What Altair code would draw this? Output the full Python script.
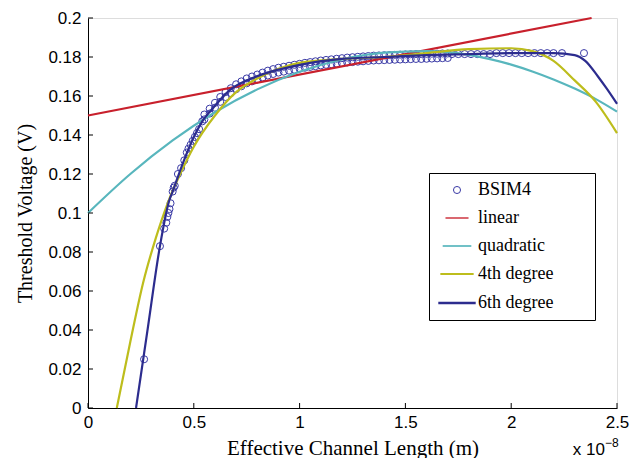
import altair as alt
import pandas as pd

series_names = ["BSIM4", "linear", "quadratic", "4th degree", "6th degree"]
series_colors = ["#3a3aa6", "#c8202c", "#58b6bd", "#bdbd1c", "#2c2c8e"]

# BSIM4 simulated points (x in units of 1e-8 m)
early_x = [0.265, 0.34, 0.36, 0.37, 0.375, 0.38, 0.385, 0.39, 0.40, 0.405, 0.41,
           0.425, 0.44, 0.455, 0.467, 0.475, 0.485, 0.495, 0.505, 0.515, 0.525, 0.54]
early_y = [0.025, 0.083, 0.092, 0.095, 0.098, 0.100, 0.102, 0.105, 0.111, 0.113, 0.114,
           0.120, 0.123, 0.127, 0.131, 0.133, 0.135, 0.137, 0.139, 0.141, 0.143, 0.147]
band_x = [0.55, 0.575, 0.6, 0.625, 0.65, 0.675, 0.7, 0.725, 0.75, 0.775, 0.8, 0.825,
          0.85, 0.875, 0.9, 0.925, 0.95, 0.975, 1.0, 1.025, 1.05, 1.075, 1.1, 1.125,
          1.15, 1.175, 1.2, 1.225, 1.25, 1.275, 1.3, 1.325, 1.35, 1.375, 1.4, 1.425,
          1.45, 1.475, 1.5, 1.525, 1.55, 1.575, 1.6, 1.625, 1.65, 1.675, 1.7]
band_upper_y = [0.1505, 0.1535, 0.1565, 0.1595, 0.162, 0.164, 0.166, 0.1675, 0.169, 0.170,
                0.171, 0.172, 0.173, 0.1738, 0.1745, 0.175, 0.1755, 0.176, 0.1765, 0.177,
                0.1774, 0.1778, 0.1782, 0.1785, 0.1788, 0.1791, 0.1794, 0.1797, 0.1799,
                0.1801, 0.1803, 0.1805, 0.1807, 0.1808, 0.1809, 0.181, 0.1811, 0.1812,
                0.1813, 0.1814, 0.1815, 0.1815, 0.1816, 0.1817, 0.1817, 0.1818, 0.1818]
band_lower_y = [0.148, 0.151, 0.154, 0.157, 0.1595, 0.1615, 0.1635, 0.165, 0.1665, 0.1675,
                0.1685, 0.1695, 0.1705, 0.1713, 0.172, 0.1725, 0.173, 0.1735, 0.174, 0.1745,
                0.1749, 0.1753, 0.1757, 0.176, 0.1763, 0.1766, 0.1769, 0.1772, 0.1774,
                0.1776, 0.1778, 0.178, 0.1782, 0.1783, 0.1784, 0.1785, 0.1786, 0.1787,
                0.1788, 0.1789, 0.179, 0.179, 0.1791, 0.1792, 0.1793, 0.1794, 0.1795]
tail_x = [1.72, 1.75, 1.78, 1.81, 1.84, 1.87, 1.90, 1.93, 1.96, 1.99, 2.02, 2.05,
          2.08, 2.11, 2.14, 2.17, 2.20, 2.24, 2.344]
tail_y = [0.1815, 0.1815, 0.1815, 0.1815, 0.1815, 0.1815, 0.1815, 0.182, 0.182, 0.182,
          0.182, 0.182, 0.182, 0.182, 0.182, 0.182, 0.182, 0.182, 0.182]

lin_x = [0.0, 2.38]
lin_y = [0.150, 0.200]

quad_x = [0.0, 0.2, 0.4, 0.6, 0.8, 1.0, 1.2, 1.4, 1.6, 1.8, 1.9, 2.0, 2.1, 2.2, 2.3, 2.4, 2.5]
quad_y = [0.100, 0.1200, 0.1372, 0.1517, 0.1634, 0.1724, 0.1787, 0.1822, 0.1830, 0.1811,
          0.1789, 0.1761, 0.1726, 0.1685, 0.1638, 0.1584, 0.152]

q4_x = [0.136, 0.2, 0.26, 0.32, 0.38, 0.44, 0.5, 0.6, 0.7, 0.8, 0.9, 1.0, 1.2, 1.4,
        1.6, 1.8, 2.0, 2.1, 2.2, 2.3, 2.4, 2.5]
q4_y = [0.0, 0.034, 0.064, 0.087, 0.106, 0.121, 0.134, 0.150, 0.162, 0.169, 0.174, 0.177,
        0.179, 0.180, 0.182, 0.184, 0.1845, 0.183, 0.178, 0.168, 0.157, 0.141]

q6_x = [0.227, 0.28, 0.34, 0.383, 0.40, 0.45, 0.5, 0.54, 0.6, 0.67, 0.75, 0.85, 1.0,
        1.2, 1.4, 1.6, 1.8, 2.0, 2.2, 2.3, 2.35, 2.41, 2.45, 2.5]
q6_y = [0.0, 0.039, 0.083, 0.106, 0.111, 0.126, 0.139, 0.147, 0.155, 0.163, 0.168, 0.172,
        0.176, 0.179, 0.180, 0.181, 0.1815, 0.182, 0.182, 0.181, 0.178, 0.170, 0.164, 0.156]

x_ticks = [0, 0.5, 1, 1.5, 2, 2.5]
y_ticks = [0, 0.02, 0.04, 0.06, 0.08, 0.1, 0.12, 0.14, 0.16, 0.18, 0.2]
exp_base = "x 10"
exp_power = "\u22128"

bsim_x = early_x + band_x + band_x + tail_x
bsim_y = early_y + band_upper_y + band_lower_y + tail_y
pts = pd.DataFrame({"x": bsim_x, "y": bsim_y, "series": "BSIM4"})
fits = [("linear", lin_x, lin_y), ("quadratic", quad_x, quad_y),
        ("4th degree", q4_x, q4_y), ("6th degree", q6_x, q6_y)]

xscale = alt.Scale(domain=[0, 2.5], nice=False, zero=False)
yscale = alt.Scale(domain=[0, 0.2], nice=False, zero=False)
cscale = alt.Scale(domain=series_names, range=series_colors)

leg = alt.Legend(title=".", titleOrient="right", titleOpacity=0, titleFontSize=2,
                 titlePadding=33,
                 orient="none", legendX=341, legendY=155,
                 strokeColor="black", fillColor="white", padding=8,
                 labelFont="Liberation Serif", labelFontSize=18, labelColor="black",
                 labelOffset=11, rowPadding=10, symbolOffset=10, labelLimit=400)

common = dict(ticks=False, grid=False, domainColor="black", domainWidth=1,
              labelExpr="'' + datum.value", labelFont="Liberation Sans",
              labelFontSize=17, labelColor="black", labelFlush=False,
              labelOverlap=False, labelSeparation=0, titleFontWeight="normal",
              titleColor="black", titleFont="Liberation Serif")
xaxis = alt.Axis(values=x_ticks, labelPadding=6,
                 title="Effective Channel Length (m)", titleFontSize=21,
                 titleBaseline="alphabetic", titleY=46, **common)
yaxis = alt.Axis(values=y_ticks, labelPadding=7,
                 title="Threshold Voltage (V)", titleFontSize=20,
                 titleAngle=270, titleBaseline="middle", titleX=-63, titleY=195, **common)

line_path = "M-2.2,0H2.2"
points = alt.Chart(pts).mark_point(filled=False, opacity=1).encode(
    x=alt.X("x:Q", scale=xscale, axis=xaxis),
    y=alt.Y("y:Q", scale=yscale, axis=yaxis),
    color=alt.Color("series:N", scale=cscale, legend=leg),
    shape=alt.Shape("series:N", scale=alt.Scale(domain=series_names,
                    range=["circle", line_path, line_path, line_path, line_path]), legend=leg),
    size=alt.Size("series:N", scale=alt.Scale(domain=series_names,
                  range=[50, 289, 289, 289, 289]), legend=leg),
    strokeWidth=alt.StrokeWidth("series:N", scale=alt.Scale(domain=series_names,
                  range=[1, 2.4, 2.4, 2.4, 2.4]), legend=leg),
)

layers = [points]
for name, xs, ys in fits:
    df = pd.DataFrame({"x": xs, "y": ys, "series": name})
    layers.append(alt.Chart(df).mark_line(strokeWidth=2.2, interpolate="monotone").encode(
        x=alt.X("x:Q", scale=xscale, axis=xaxis),
        y=alt.Y("y:Q", scale=yscale, axis=yaxis),
        color=alt.Color("series:N", scale=cscale, legend=leg),
    ))

xt = pd.DataFrame({"x": x_ticks})
yt = pd.DataFrame({"y": y_ticks})
layers.append(alt.Chart(xt).mark_rule(color="black", strokeWidth=1).encode(
    x=alt.X("x:Q", scale=xscale, axis=xaxis), y=alt.value(390), y2=alt.value(385)))
layers.append(alt.Chart(yt).mark_rule(color="black", strokeWidth=1).encode(
    y=alt.Y("y:Q", scale=yscale, axis=yaxis), x=alt.value(0), x2=alt.value(5)))

ann = pd.DataFrame({"x": [2.5], "y": [0.0], "t": [exp_base], "p": [exp_power]})
layers.append(alt.Chart(ann).mark_text(align="right", baseline="alphabetic", dx=-12, dy=47,
                                        font="Liberation Sans", fontSize=17, color="black").encode(
    x=alt.X("x:Q", scale=xscale, axis=xaxis), y=alt.Y("y:Q", scale=yscale, axis=yaxis), text="t:N"))
layers.append(alt.Chart(ann).mark_text(align="left", baseline="alphabetic", dx=-12, dy=39,
                                        font="Liberation Sans", fontSize=12, color="black").encode(
    x=alt.X("x:Q", scale=xscale, axis=xaxis), y=alt.Y("y:Q", scale=yscale, axis=yaxis), text="p:N"))

chart = alt.layer(*layers).properties(
    width=529, height=390,
    autosize=alt.AutoSizeParams(type="none"),
    padding={"left": 80, "top": 10, "right": 18, "bottom": 50},
).configure_view(stroke=None).configure_axis(labelOverlap=False).configure(background="white")

chart.save("out.html", embed_options={"renderer": "svg", "actions": False})
